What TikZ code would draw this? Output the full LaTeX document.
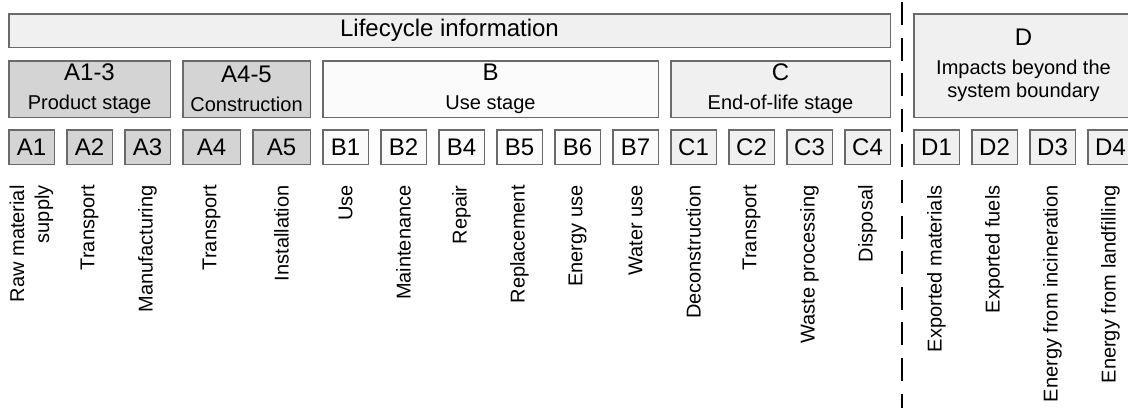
\documentclass[tikz,border=0pt]{standalone}
\usepackage{fontspec}
\setmainfont{Liberation Sans}
\usetikzlibrary{positioning}

\definecolor{boxline}{HTML}{6A6A6A}
\definecolor{stageA}{HTML}{D4D4D4}
\definecolor{stageB}{HTML}{FBFBFB}
\definecolor{stageC}{HTML}{F0F0F0}

\begin{document}
\begin{tikzpicture}[x=0.5pt,y=-0.5pt,node distance=5.5pt,
   box/.style={draw=boxline,line width=0.75pt,inner sep=0pt,font=\fontsize{12}{14.5}\selectfont},
   module/.style={box,minimum width=22.75pt,minimum height=17.25pt},
   wide/.style={module,minimum width=28.75pt},
   stage/.style={box,align=center,minimum height=28.25pt},
   info/.style={rotate=90,anchor=east,align=right,inner sep=0pt,font=\fontsize{10}{12.5}\selectfont}]
   \useasboundingbox (0,0) rectangle (1128,408);
   \clip (0,0) rectangle (1128,408);

   % modules
   \node[module,fill=stageA] (a_1) at (31.5,147) {A1};
   \node[module,fill=stageA] (a_2) [right=of a_1] {A2};
   \node[module,fill=stageA] (a_3) [right=of a_2] {A3};
   \node[wide,fill=stageA]   (a_4) [right=of a_3] {A4};
   \node[wide,fill=stageA]   (a_5) [right=of a_4] {A5};
   \node[module,fill=stageB] (b_1) [right=of a_5] {B1};
   \node[module,fill=stageB] (b_2) [right=of b_1] {B2};
   \node[module,fill=stageB] (b_4) [right=of b_2] {B4};
   \node[module,fill=stageB] (b_5) [right=of b_4] {B5};
   \node[module,fill=stageB] (b_6) [right=of b_5] {B6};
   \node[module,fill=stageB] (b_7) [right=of b_6] {B7};
   \node[module,fill=stageC] (c_1) [right=of b_7] {C1};
   \node[module,fill=stageC] (c_2) [right=of c_1] {C2};
   \node[module,fill=stageC] (c_3) [right=of c_2] {C3};
   \node[module,fill=stageC] (c_4) [right=of c_3] {C4};
   \node[module,fill=stageC] (d_1) [right=11pt of c_4] {D1};
   \node[module,fill=stageC] (d_2) [right=of d_1] {D2};
   \node[module,fill=stageC] (d_3) [right=of d_2] {D3};
   \node[module,fill=stageC] (d_4) [right=of d_3] {D4};

   % stages
   \node[stage,fill=stageC,minimum width=440.75pt,minimum height=16.75pt] (life) at (449.5,30.5) {Lifecycle information};
   \node[stage,fill=stageA,minimum width=80.75pt] (a_13) at (89.5,89) {A1-3\\{\fontsize{10}{12}\selectfont Product stage}};
   \node[stage,fill=stageA,minimum width=63.75pt] (a_45) at (246.5,89) {A4-5\\{\fontsize{10}{12}\selectfont Construction}};
   \node[stage,fill=stageB,minimum width=167.75pt] (b_use) at (490.5,89) {B\\{\fontsize{10}{12}\selectfont Use stage}};
   \node[stage,fill=stageC,minimum width=109.75pt] (c_end) at (780.5,89) {C\\{\fontsize{10}{12}\selectfont End-of-life stage}};
   \node[stage,fill=stageC,minimum width=109.75pt,minimum height=51.75pt] (d_ext) at (1023.5,65.5) {D\\{\fontsize{10}{12}\selectfont Impacts beyond the}\\[-3pt]{\fontsize{10}{12}\selectfont system boundary}};

   % module names
   \node[info] (l_a1) at (a_1 |- 0,185) {Raw material\\supply};
   \node[info] (l_a2) at (a_2 |- 0,185) {Transport};
   \node[info] (l_a3) at (a_3 |- 0,185) {Manufacturing};
   \node[info] (l_a4) at (a_4 |- 0,185) {Transport};
   \node[info] (l_a5) at (a_5 |- 0,185) {Installation};
   \node[info] (l_b1) at (b_1 |- 0,185) {Use};
   \node[info] (l_b2) at (b_2 |- 0,185) {Maintenance};
   \node[info] (l_b4) at (b_4 |- 0,185) {Repair};
   \node[info] (l_b5) at (b_5 |- 0,185) {Replacement};
   \node[info] (l_b6) at (b_6 |- 0,185) {Energy use};
   \node[info] (l_b7) at (b_7 |- 0,185) {Water use};
   \node[info] (l_c1) at (c_1 |- 0,185) {Deconstruction};
   \node[info] (l_c2) at (c_2 |- 0,185) {Transport};
   \node[info] (l_c3) at (c_3 |- 0,185) {Waste processing};
   \node[info] (l_c4) at (c_4 |- 0,185) {Disposal};
   \node[info] (l_d1) at (d_1 |- 0,185) {Exported materials};
   \node[info] (l_d2) at (d_2 |- 0,185) {Exported fuels};
   \node[info] (l_d3) at (d_3 |- 0,185) {Energy from incineration};
   \node[info] (l_d4) at (d_4 |- 0,185) {Energy from landfilling};

   % system boundary
   \draw[line width=1.4pt,dash pattern=on 11.5pt off 6.3pt] (902,2) -- (902,408);
\end{tikzpicture}
\end{document}
